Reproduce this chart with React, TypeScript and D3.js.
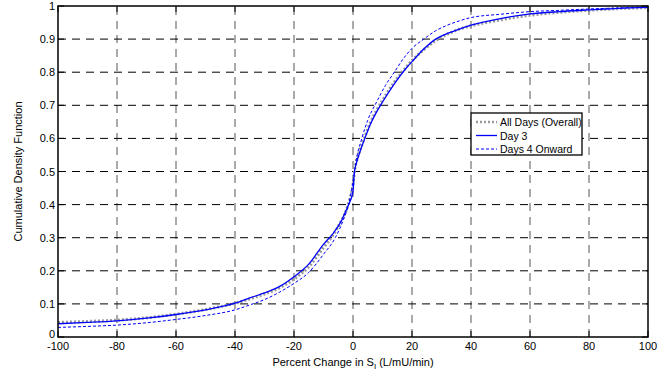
import { line, scaleLinear, curveMonotoneX } from "d3";

const xTicks = [-100, -80, -60, -40, -20, 0, 20, 40, 60, 80, 100];
const yTicks = [0, 0.1, 0.2, 0.3, 0.4, 0.5, 0.6, 0.7, 0.8, 0.9, 1];
const yTickLabels = ["0", "0.1", "0.2", "0.3", "0.4", "0.5", "0.6", "0.7", "0.8", "0.9", "1"];

const dayThreeX = [-100, -90, -80, -70, -60, -50, -40, -35, -30, -25, -20, -15, -10, -7, -4, -2, -1, 0, 0.5, 1, 2, 4, 6, 8, 10, 14, 18, 20, 24, 28, 32, 36, 40, 50, 60, 70, 80, 90, 100];
const dayThreeF = [0.04, 0.044, 0.049, 0.057, 0.068, 0.082, 0.102, 0.118, 0.133, 0.152, 0.182, 0.22, 0.28, 0.31, 0.35, 0.39, 0.41, 0.44, 0.5, 0.52, 0.55, 0.6, 0.645, 0.68, 0.71, 0.765, 0.812, 0.832, 0.87, 0.9, 0.917, 0.93, 0.942, 0.962, 0.976, 0.983, 0.988, 0.993, 0.996];

const laterX = [-100, -90, -80, -70, -60, -50, -40, -35, -30, -25, -20, -15, -10, -6, -3, -1.5, 0, 0.5, 1, 3, 5, 8, 11, 14, 17, 20, 24, 28, 32, 36, 40, 50, 60, 70, 80, 90, 100];
const laterF = [0.029, 0.032, 0.036, 0.043, 0.053, 0.065, 0.082, 0.097, 0.113, 0.135, 0.162, 0.195, 0.25, 0.3, 0.36, 0.4, 0.47, 0.5, 0.53, 0.6, 0.655, 0.71, 0.76, 0.8, 0.84, 0.872, 0.9, 0.925, 0.942, 0.955, 0.965, 0.975, 0.983, 0.987, 0.991, 0.994, 0.997];

const overallX = [-100, -90, -80, -70, -60, -50, -40, -35, -30, -25, -20, -15, -10, -7, -4, -2, -1, 0, 0.5, 1, 2, 4, 6, 8, 10, 14, 18, 20, 24, 28, 32, 36, 40, 50, 60, 70, 80, 90, 100];
const overallF = [0.044, 0.047, 0.051, 0.058, 0.069, 0.083, 0.102, 0.115, 0.13, 0.148, 0.175, 0.212, 0.27, 0.305, 0.35, 0.39, 0.42, 0.46, 0.5, 0.525, 0.555, 0.605, 0.65, 0.685, 0.715, 0.77, 0.815, 0.835, 0.868, 0.895, 0.915, 0.93, 0.94, 0.958, 0.972, 0.981, 0.987, 0.992, 0.995];

const legendNames = ["All Days (Overall)", "Day 3", "Days 4 Onward"];

const W = 671;
const H = 378;
const left = 58;
const right = 648;
const top = 6;
const bottom = 337;
const font = "'Liberation Sans', Arial, sans-serif";

function App() {
  const x = scaleLinear().domain([-100, 100]).range([left, right]);
  const y = scaleLinear().domain([0, 1]).range([bottom, top]);

  const lineGen = line<[number, number]>()
    .x((d) => x(d[0]))
    .y((d) => y(d[1]))
    .curve(curveMonotoneX);

  const zip = (xs: number[], fs: number[]) => xs.map((v, i) => [v, fs[i]] as [number, number]);

  const series = [
    { name: legendNames[0], d: lineGen(zip(overallX, overallF)), stroke: "#9a9a9a", width: 3, dash: "2,2" },
    { name: legendNames[1], d: lineGen(zip(dayThreeX, dayThreeF)), stroke: "#0000ff", width: 1.3, dash: null },
    { name: legendNames[2], d: lineGen(zip(laterX, laterF)), stroke: "#0000ff", width: 1, dash: "3,2" },
  ];

  const lx = 471;
  const ly = 113;

  return (
    <svg width={W} height={H} style={{ position: "absolute", left: 0, top: 0, background: "#fff" }}>
      <rect x={left} y={top} width={right - left} height={bottom - top} fill="#fff" />
      <g className="grid" strokeWidth={1} strokeDasharray="8,6">
        {xTicks.slice(1, -1).map((t) => (
          <line key={"gx" + t} x1={x(t)} x2={x(t)} y1={bottom} y2={top} stroke="#555" />
        ))}
        {yTicks.slice(1, -1).map((t) => (
          <line key={"gy" + t} x1={left} x2={right} y1={y(t)} y2={y(t)} stroke="#000" />
        ))}
      </g>
      <g className="ticks" stroke="#000" strokeWidth={1}>
        {xTicks.map((t) => (
          <g key={"tx" + t}>
            <line x1={x(t)} x2={x(t)} y1={bottom} y2={bottom - 6} />
            <line x1={x(t)} x2={x(t)} y1={top} y2={top + 6} />
          </g>
        ))}
        {yTicks.map((t) => (
          <g key={"ty" + t}>
            <line x1={left} x2={left + 6} y1={y(t)} y2={y(t)} />
            <line x1={right} x2={right - 6} y1={y(t)} y2={y(t)} />
          </g>
        ))}
      </g>
      <g className="content" fill="none" strokeLinejoin="round">
        {series.map((s) => (
          <path key={s.name} d={s.d ?? ""} stroke={s.stroke} strokeWidth={s.width} strokeDasharray={s.dash ?? undefined} />
        ))}
      </g>
      <rect x={left} y={top} width={right - left} height={bottom - top} fill="none" stroke="#000" strokeWidth={1.5} />
      <g fontFamily={font} fontSize={11} fill="#000">
        {xTicks.map((t) => (
          <text key={"lx" + t} x={x(t)} y={349.5} textAnchor="middle">
            {t}
          </text>
        ))}
        {yTicks.map((t, i) => (
          <text key={"ly" + t} x={55} y={y(t) + (t === 0 ? 1 : 4)} textAnchor="end">
            {yTickLabels[i]}
          </text>
        ))}
        <text x={353} y={366} textAnchor="middle">
          Percent Change in S
          <tspan fontSize={8} dy={3}>I</tspan>
          <tspan dy={-3}> (L/mU/min)</tspan>
        </text>
        <text transform={`translate(22,${(top + bottom) / 2}) rotate(-90)`} textAnchor="middle">
          Cumulative Density Function
        </text>
      </g>
      <g className="legend">
        <rect x={lx} y={ly} width={111} height={42} fill="#fff" stroke="#000" strokeWidth={1.3} />
        {series.map((s, i) => (
          <g key={"leg" + s.name} transform={`translate(0,${ly + 9 + i * 13.5})`}>
            <line x1={lx + 5} x2={lx + 26} y1={0} y2={0} stroke={s.stroke} strokeWidth={s.width === 3 ? 2.5 : s.width} strokeDasharray={s.dash ?? undefined} />
            <text x={lx + 29} y={4} fontFamily={font} fontSize={10.5} fill="#000">
              {s.name}
            </text>
          </g>
        ))}
      </g>
    </svg>
  );
}

export default App;
